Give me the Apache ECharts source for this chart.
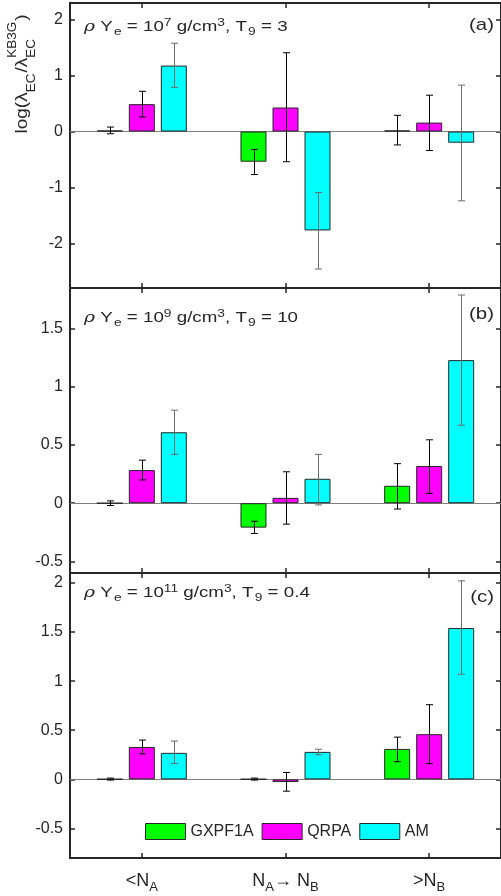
<!DOCTYPE html>
<html><head><meta charset="utf-8">
<script src="https://cdn.jsdelivr.net/npm/echarts@6/dist/echarts.min.js"></script>
<style>html,body{margin:0;padding:0;background:#fff}#c{width:501px;height:896px}</style>
</head><body><div id="c"></div>
<script>
// ---- data ----
const categories = ['<N_A', 'N_A→ N_B', '>N_B'];
const seriesNames = ['GXPF1A', 'QRPA', 'AM'];

// panel (a)
const a_GXPF1A = [0.02, -0.54, 0.02];
const a_GXPF1A_lo = [-0.04, -0.77, -0.24];
const a_GXPF1A_hi = [0.08, -0.32, 0.29];
const a_QRPA = [0.49, 0.43, 0.16];
const a_QRPA_lo = [0.26, -0.54, -0.34];
const a_QRPA_hi = [0.72, 1.41, 0.65];
const a_AM = [1.18, -1.77, -0.20];
const a_AM_lo = [0.79, -2.46, -1.24];
const a_AM_hi = [1.58, -1.09, 0.83];

// panel (b)
const b_GXPF1A = [0.0, -0.21, 0.15];
const b_GXPF1A_lo = [-0.02, -0.26, -0.05];
const b_GXPF1A_hi = [0.02, -0.155, 0.34];
const b_QRPA = [0.285, 0.046, 0.32];
const b_QRPA_lo = [0.20, -0.18, 0.085];
const b_QRPA_hi = [0.37, 0.27, 0.545];
const b_AM = [0.61, 0.21, 1.23];
const b_AM_lo = [0.42, -0.015, 0.67];
const b_AM_hi = [0.80, 0.42, 1.79];

// panel (c)
const c_GXPF1A = [0.003, 0.003, 0.31];
const c_GXPF1A_lo = [-0.007, -0.007, 0.18];
const c_GXPF1A_hi = [0.013, 0.013, 0.43];
const c_QRPA = [0.33, -0.027, 0.46];
const c_QRPA_lo = [0.26, -0.12, 0.16];
const c_QRPA_hi = [0.40, 0.07, 0.76];
const c_AM = [0.27, 0.28, 1.54];
const c_AM_lo = [0.16, 0.25, 1.07];
const c_AM_hi = [0.39, 0.307, 2.02];

const yTicksA = [-2, -1, 0, 1, 2];
const yTicksB = [-0.5, 0, 0.5, 1, 1.5];
const yTicksC = [-0.5, 0, 0.5, 1, 1.5, 2];

// ---- style / layout ----
const FONT = '"Liberation Sans", Arial, Helvetica, sans-serif';
const TXT = '#262626';
const COLORS = ['#00ff00', '#ff00ff', '#00ffff'];
const ERRC = ['#000000', '#000000', '#6b6b6b'];
const BARW = 26, BARGAP = 6, CAP = 3.5;
const GRID_LEFT = 70, GRID_W = 432, GRID_H = 285;

const panels = [
  { top: 3, min: -2.8, max: 2.3, ticks: yTicksA,
    vals: [a_GXPF1A, a_QRPA, a_AM], lo: [a_GXPF1A_lo, a_QRPA_lo, a_AM_lo], hi: [a_GXPF1A_hi, a_QRPA_hi, a_AM_hi],
    note: '{r|ρ} Y{sub|e} = 10{sup|7} g/cm{sup|3}, T{sub|9} = 3', noteY: 27, tag: '(a)', tagY: 25 },
  { top: 288, min: -0.6, max: 1.85, ticks: yTicksB,
    vals: [b_GXPF1A, b_QRPA, b_AM], lo: [b_GXPF1A_lo, b_QRPA_lo, b_AM_lo], hi: [b_GXPF1A_hi, b_QRPA_hi, b_AM_hi],
    note: '{r|ρ} Y{sub|e} = 10{sup|9} g/cm{sup|3}, T{sub|9} = 10', noteY: 318, tag: '(b)', tagY: 314 },
  { top: 573, min: -0.8, max: 2.1, ticks: yTicksC,
    vals: [c_GXPF1A, c_QRPA, c_AM], lo: [c_GXPF1A_lo, c_QRPA_lo, c_AM_lo], hi: [c_GXPF1A_hi, c_QRPA_hi, c_AM_hi],
    note: '{r|ρ} Y{sub|e} = 10{sup|11} g/cm{sup|3}, T{sub|9} = 0.4', noteY: 593, tag: '(c)', tagY: 597 }
];

const grids = [], xAxes = [], yAxes = [], series = [], graphics = [];
const axLine = { show: true, onZero: false, lineStyle: { color: TXT, width: 2 } };
const tickStyle = { color: TXT, width: 1.5 };
const noteRich = {
  r: { fontSize: 15, fontStyle: 'italic', fontFamily: 'DejaVu Serif', fill: TXT },
  sub: { fontSize: 11, padding: [10, 0, 0, 1], fontFamily: FONT, fill: TXT },
  sup: { fontSize: 11, padding: [0, 0, 9, 0], fontFamily: FONT, fill: TXT }
};

panels.forEach((p, g) => {
  grids.push({ left: GRID_LEFT, top: p.top, width: GRID_W, height: GRID_H, containLabel: false });
  xAxes.push({
    type: 'category', gridIndex: g, data: categories, position: 'bottom',
    axisLine: axLine,
    axisTick: { show: true, inside: true, alignWithLabel: true, interval: 0, length: 5, lineStyle: tickStyle },
    axisLabel: g === 2 ? {
      show: true, interval: 0, margin: 11, color: TXT, fontSize: 18, fontFamily: FONT,
      formatter: (v) => v.replace(/_(\w)/g, '{s|$1}'),
      rich: { s: { fontSize: 13, padding: [12, 0, 0, 0], color: TXT, fontFamily: FONT } }
    } : { show: false },
    splitLine: { show: false }
  });
  xAxes.push({
    type: 'category', gridIndex: g, data: categories, position: 'top',
    axisLine: axLine,
    axisTick: { show: true, inside: true, alignWithLabel: true, interval: 0, length: 5, lineStyle: tickStyle },
    axisLabel: { show: false }, splitLine: { show: false }
  });
  yAxes.push({
    type: 'value', gridIndex: g, min: p.min, max: p.max, position: 'left',
    axisLine: axLine,
    axisTick: { show: true, inside: true, length: 5, customValues: p.ticks, lineStyle: tickStyle },
    axisLabel: { show: true, customValues: p.ticks, fontSize: 16, color: TXT, fontFamily: FONT, margin: 7 },
    splitLine: { show: false }
  });
  yAxes.push({
    type: 'value', gridIndex: g, min: p.min, max: p.max, position: 'right',
    axisLine: axLine,
    axisTick: { show: true, inside: true, length: 5, customValues: p.ticks, lineStyle: tickStyle },
    axisLabel: { show: false }, splitLine: { show: false }
  });
  p.vals.forEach((v, k) => {
    const s = {
      type: 'bar', name: seriesNames[k], xAxisIndex: 2 * g, yAxisIndex: 2 * g, data: v,
      barWidth: BARW, barGap: (BARGAP / BARW * 100).toFixed(1) + '%',
      itemStyle: { color: COLORS[k], borderColor: '#262626', borderWidth: 1 },
      z: 2
    };
    if (k === 0) {
      s.markLine = {
        silent: true, symbol: 'none', label: { show: false },
        lineStyle: { color: '#808080', width: 1, type: 'solid' },
        data: [{ yAxis: 0 }], z: 1
      };
    }
    series.push(s);
  });
  p.vals.forEach((v, k) => {
    const off = (k - 1) * (BARW + BARGAP);
    series.push({
      type: 'custom', xAxisIndex: 2 * g, yAxisIndex: 2 * g, silent: true, z: 5,
      encode: { x: 0, y: [1, 2] },
      data: categories.map((c, i) => [i, p.lo[k][i], p.hi[k][i]]),
      renderItem: (params, api) => {
        const lo = api.coord([api.value(0), api.value(1)]);
        const hi = api.coord([api.value(0), api.value(2)]);
        const x = Math.round(lo[0] + off) + 0.5;
        const st = { stroke: ERRC[k], lineWidth: 1 };
        return {
          type: 'group', children: [
            { type: 'line', shape: { x1: x, y1: lo[1], x2: x, y2: hi[1] }, style: st },
            { type: 'line', shape: { x1: x - CAP, y1: lo[1], x2: x + CAP, y2: lo[1] }, style: st },
            { type: 'line', shape: { x1: x - CAP, y1: hi[1], x2: x + CAP, y2: hi[1] }, style: st }
          ]
        };
      }
    });
  });
  graphics.push({
    type: 'text', x: 84, y: p.noteY, scaleX: 1.25, z: 20,
    style: { text: p.note, rich: noteRich, fontSize: 15, fontFamily: FONT, fill: TXT, verticalAlign: 'middle', align: 'left' }
  });
  graphics.push({
    type: 'text', x: 494, y: p.tagY, scaleX: 1.2, z: 20,
    style: { text: p.tag, fontSize: 17, fontFamily: FONT, fill: TXT, verticalAlign: 'middle', align: 'right' }
  });
});

// y-axis title built from measured pieces (rotated)
const mctx = document.createElement('canvas').getContext('2d');
function tw(t, size) { mctx.font = size + 'px "Liberation Sans"'; return mctx.measureText(t).width; }
const MAIN = 17, SMALL = 12;
const pieces = [
  { t: 'log(λ', s: MAIN, dy: 0 },
  { t: 'EC', s: SMALL, dy: 10 },
  { t: '/λ', s: MAIN, dy: 0 },
  { t: 'EC', s: SMALL, dy: 10, sup: 'KB3G' },
  { t: ')', s: MAIN, dy: 0 }
];
let total = 0;
pieces.forEach(pc => { pc.w = Math.max(tw(pc.t, pc.s), pc.sup ? tw(pc.sup, SMALL) : 0) + (pc.s === SMALL ? 1 : 0); total += pc.w; });
let cx = -total / 2;
const labelChildren = [];
pieces.forEach(pc => {
  labelChildren.push({ type: 'text', x: cx, y: pc.dy, style: { text: pc.t, fontSize: pc.s, fontFamily: FONT, fill: TXT, verticalAlign: 'middle', align: 'left' } });
  if (pc.sup) labelChildren.push({ type: 'text', x: cx, y: -9, style: { text: pc.sup, fontSize: SMALL, fontFamily: FONT, fill: TXT, verticalAlign: 'middle', align: 'left' } });
  cx += pc.w;
});
graphics.push({ type: 'group', x: 22, y: 74, rotation: Math.PI / 2, scaleX: 1.12, children: labelChildren, z: 20 });

const chart = echarts.init(document.getElementById('c'), null, { renderer: 'canvas' });
chart.setOption({
  animation: false,
  backgroundColor: '#ffffff',
  textStyle: { fontFamily: FONT },
  grid: grids, xAxis: xAxes, yAxis: yAxes, series: series,
  legend: {
    data: seriesNames, left: 145, top: 823, itemWidth: 40, itemHeight: 16, itemGap: 8,
    icon: 'rect', selectedMode: false, padding: 0,
    itemStyle: { borderColor: '#262626', borderWidth: 1 },
    textStyle: { fontSize: 16, color: TXT, fontFamily: FONT }
  },
  graphic: graphics
});
</script></body></html>
